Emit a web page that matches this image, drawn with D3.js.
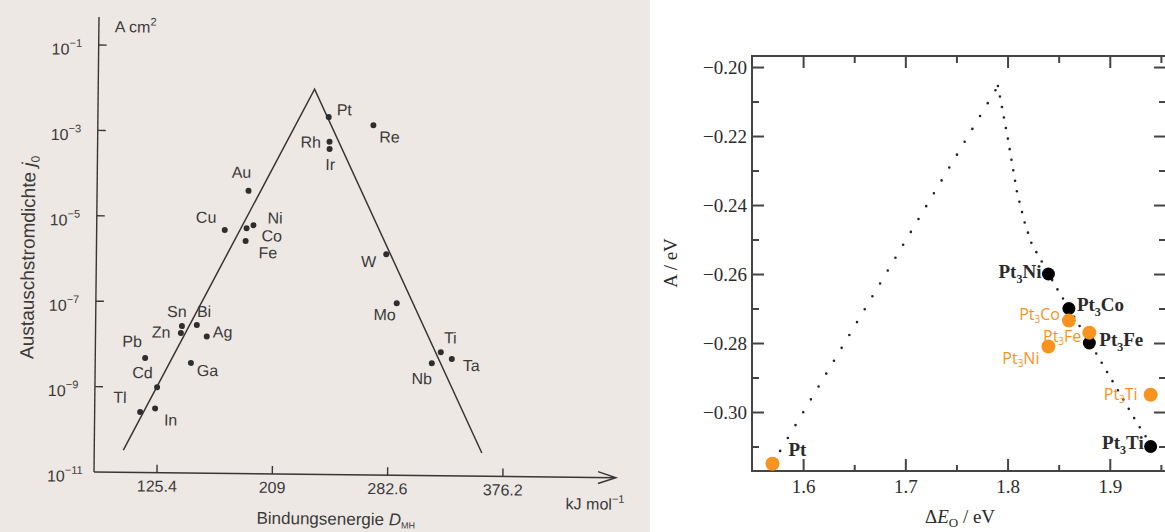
<!DOCTYPE html>
<html>
<head>
<meta charset="utf-8">
<script src="https://cdnjs.cloudflare.com/ajax/libs/d3/7.8.5/d3.min.js"></script>
<style>
  body { margin: 0; background: #fff; }
  svg { display: block; }
  .scan text { font-family: "Liberation Sans", Arial, sans-serif; fill: #3a3a3a; }
  .calc text { font-family: "Liberation Serif", "Times New Roman", serif; fill: #2b2b2b; }
</style>
</head>
<body>
<svg width="1165" height="532"></svg>
<script>
// ---- left: exchange current density vs. M-H bond energy (scanned textbook figure)
var metals = ["Tl", "In", "Pb", "Cd", "Zn", "Sn", "Ga", "Bi", "Ag", "Cu", "Fe", "Co", "Au", "Ni",
              "Pt", "Rh", "Ir", "Re", "W", "Mo", "Nb", "Ti", "Ta"];
var bondEnergy = [112.7, 123.5, 115.9, 124.8, 141.6, 142.3, 149.1, 153.1, 160.4, 172.6, 187.8, 188.4, 189.5, 193.4,
                  242.5, 243.2, 243.3, 271.1, 280.2, 288.5, 317.5, 324.7, 333.7];
var exchangeCurrent = [2.6e-10, 3.2e-10, 4.8e-9, 1.0e-9, 1.9e-8, 2.75e-8, 3.8e-9, 2.95e-8, 1.6e-8, 5.0e-6, 2.8e-6, 5.6e-6, 4.2e-5, 6.6e-6,
                       2.35e-3, 6.2e-4, 4.2e-4, 1.55e-3, 1.5e-6, 1.07e-7, 4.3e-9, 7.8e-9, 5.5e-9];
var peakEnergy = [100.8, 233.3, 358.9];
var peakCurrent = [3.3e-11, 1.05e-2, 3.5e-11];
var energyTicks = [125.4, 209, 282.6, 376.2];
var currentTicks = [1e-1, 1e-3, 1e-5, 1e-7, 1e-9, 1e-11];
var currentExponents = ["\u22121", "\u22123", "\u22125", "\u22127", "\u22129", "\u221211"];

// ---- right: A vs. oxygen binding energy
var alloys = ["Pt", "Pt3Ni", "Pt3Co", "Pt3Fe", "Pt3Ti"];
var deltaEO = [1.57, 1.84, 1.86, 1.88, 1.94];
var aBlack = [-0.315, -0.260, -0.270, -0.280, -0.310];
var aOrange = [-0.315, -0.281, -0.2735, -0.277, -0.295];
var volcanoLeftE = [1.57, 1.7906];
var volcanoLeftA = [-0.315, -0.2055];
var volcanoRightE = [1.7906, 1.8004, 1.8092, 1.8171, 1.8240, 1.8299, 1.8475, 1.8905, 1.9267, 1.9413];
var volcanoRightA = [-0.2055, -0.2209, -0.2362, -0.2455, -0.2516, -0.2545, -0.2638, -0.2849, -0.3032, -0.3099];
var eTicks = [1.6, 1.7, 1.8, 1.9];
var eMinorTicks = [1.65, 1.75, 1.85, 1.95];
var aTicks = [-0.30, -0.28, -0.26, -0.24, -0.22, -0.20];
var aMinorTicks = [-0.31, -0.29, -0.27, -0.25, -0.23, -0.21];

var svg = d3.select("svg");

// ================= left panel =================
svg.append("rect")
  .attr("x", 0).attr("y", 0).attr("width", 650).attr("height", 532)
  .attr("fill", "#eee8e4");

// the scan is slightly tilted
var scan = svg.append("g").attr("class", "scan").attr("transform", "rotate(0.63,94,472)");

var xE = d3.scaleLinear()
  .domain(energyTicks)
  .range(energyTicks.map(function(d, i) { return 157 + i * 115.3; }));
var yJ = d3.scaleLog().domain([1e-11, 1e-1]).range([472, 45]);

var ink = "#363636";

scan.append("line").attr("x1", 94).attr("x2", 94).attr("y1", 17).attr("y2", 472)
  .attr("stroke", ink).attr("stroke-width", 1.4);
scan.append("line").attr("x1", 94).attr("x2", 615).attr("y1", 472).attr("y2", 472)
  .attr("stroke", ink).attr("stroke-width", 1.4);
scan.append("path").attr("d", "M598,466L616,472L598,478")
  .attr("fill", "none").attr("stroke", ink).attr("stroke-width", 1.4);

scan.selectAll(".ytick")
  .data(currentTicks.slice(0, 5))
  .enter().append("line")
    .attr("x1", 94).attr("x2", 102)
    .attr("y1", function(d) { return yJ(d); })
    .attr("y2", function(d) { return yJ(d); })
    .attr("stroke", ink).attr("stroke-width", 1.4);

var ylab = scan.selectAll(".ylab")
  .data(currentTicks)
  .enter().append("text")
    .attr("x", 47)
    .attr("y", function(d) { return yJ(d) + 10; })
    .style("font-size", "16px");
ylab.append("tspan").text("10");
ylab.append("tspan")
  .attr("dy", -8).style("font-size", "11px")
  .text(function(d, i) { return currentExponents[i]; });

scan.selectAll(".xtick")
  .data(energyTicks)
  .enter().append("line")
    .attr("x1", function(d) { return xE(d); })
    .attr("x2", function(d) { return xE(d); })
    .attr("y1", 472).attr("y2", 464)
    .attr("stroke", ink).attr("stroke-width", 1.4);

scan.selectAll(".xlab")
  .data(energyTicks)
  .enter().append("text")
    .attr("x", function(d) { return xE(d); })
    .attr("y", 491)
    .attr("text-anchor", "middle")
    .style("font-size", "16px")
    .text(function(d) { return d; });

var unitY = scan.append("text").attr("x", 110).attr("y", 32).style("font-size", "16px");
unitY.append("tspan").text("A cm");
unitY.append("tspan").attr("dy", -7).style("font-size", "11px").text("2");

var unitX = scan.append("text").attr("x", 566).attr("y", 504).style("font-size", "16px");
unitX.append("tspan").text("kJ mol");
unitX.append("tspan").attr("dy", -7).style("font-size", "11px").text("\u22121");

var titleX = scan.append("text").attr("x", 257).attr("y", 522).style("font-size", "17px");
titleX.append("tspan").text("Bindungsenergie ");
titleX.append("tspan").style("font-style", "italic").text("D");
titleX.append("tspan").attr("dy", 3).style("font-size", "9px").text("MH");

var titleY = scan.append("text")
  .attr("transform", "translate(32,258) rotate(-90)")
  .attr("text-anchor", "middle")
  .style("font-size", "19px");
titleY.append("tspan").text("Austauschstromdichte ");
titleY.append("tspan").style("font-style", "italic").text("j");
titleY.append("tspan").attr("dy", 4).style("font-size", "12px").text("0");

// the two straight branches of the volcano
scan.append("path")
  .datum(d3.zip(peakEnergy, peakCurrent))
  .attr("d", d3.line()
    .x(function(d) { return xE(d[0]); })
    .y(function(d) { return yJ(d[1]); }))
  .attr("fill", "none").attr("stroke", ink).attr("stroke-width", 1.5);

var metalData = metals.map(function(m, i) {
  return {name: m, e: bondEnergy[i], j: exchangeCurrent[i]};
});

scan.selectAll(".metal")
  .data(metalData)
  .enter().append("circle")
    .attr("cx", function(d) { return xE(d.e); })
    .attr("cy", function(d) { return yJ(d.j); })
    .attr("r", 3)
    .attr("fill", "#2e2e2e");

// label offsets from each dot (left edge, baseline)
var metalLabelOffset = {
  Au: [-17, -13], Cu: [-29, -7], Ni: [14, -2], Co: [15, 13], Fe: [13, 17],
  Pt: [8, -2], Re: [6, 17], Rh: [-29, 6], Ir: [-4, 21], W: [-25, 13],
  Mo: [-23, 17], Ti: [3, -9], Ta: [11, 12], Nb: [-20, 21], Sn: [-15, -9],
  Bi: [0, -8], Zn: [-29, 5], Ag: [6, 1], Pb: [-23, -11], Ga: [6, 13],
  Cd: [-25, -9], Tl: [-27, -9], In: [9, 17]
};

scan.selectAll(".metalLabel")
  .data(metalData)
  .enter().append("text")
    .attr("x", function(d) { return xE(d.e) + metalLabelOffset[d.name][0]; })
    .attr("y", function(d) { return yJ(d.j) + metalLabelOffset[d.name][1]; })
    .style("font-size", "16px")
    .text(function(d) { return d.name; });

// ================= right panel =================
var calc = svg.append("g").attr("class", "calc");

var xD = d3.scaleLinear().domain([1.55, 1.955]).range([752, 1166]);
var yA = d3.scaleLinear().domain([-0.3171, -0.1968]).range([471, 56]);

var frame = "#444";

function styleAxis(g) {
  g.select(".domain").remove();
  g.selectAll("line").attr("stroke", frame).attr("stroke-width", 2);
  g.selectAll("text").style("font-size", "19px").attr("fill", "#2b2b2b");
}

calc.append("g").attr("transform", "translate(0,471)")
  .call(d3.axisBottom(xD).tickValues(eTicks).tickSize(-12).tickPadding(9).tickFormat(d3.format(".1f")))
  .call(styleAxis);
calc.append("g").attr("transform", "translate(0,471)")
  .call(d3.axisBottom(xD).tickValues(eMinorTicks).tickSize(-6).tickFormat(""))
  .call(styleAxis);
calc.append("g").attr("transform", "translate(0,56)")
  .call(d3.axisTop(xD).tickValues(eTicks).tickSize(-12).tickFormat(""))
  .call(styleAxis);
calc.append("g").attr("transform", "translate(0,56)")
  .call(d3.axisTop(xD).tickValues(eMinorTicks).tickSize(-7).tickFormat(""))
  .call(styleAxis);

calc.append("g").attr("transform", "translate(752,0)")
  .call(d3.axisLeft(yA).tickValues(aTicks).tickSize(-12).tickPadding(5).tickFormat(d3.format(".2f")))
  .call(styleAxis);
calc.append("g").attr("transform", "translate(752,0)")
  .call(d3.axisLeft(yA).tickValues(aMinorTicks).tickSize(-7).tickFormat(""))
  .call(styleAxis);
calc.append("g").attr("transform", "translate(1166,0)")
  .call(d3.axisRight(yA).tickValues(aTicks).tickSize(-12).tickFormat(""))
  .call(styleAxis);
calc.append("g").attr("transform", "translate(1166,0)")
  .call(d3.axisRight(yA).tickValues(aMinorTicks).tickSize(-7).tickFormat(""))
  .call(styleAxis);

calc.append("rect")
  .attr("x", 752).attr("y", 56).attr("width", 414).attr("height", 415)
  .attr("fill", "none").attr("stroke", frame).attr("stroke-width", 2);

var xt = calc.append("text").attr("x", 960).attr("y", 523).attr("text-anchor", "middle").style("font-size", "19px");
xt.append("tspan").text("\u0394");
xt.append("tspan").style("font-style", "italic").text("E");
xt.append("tspan").attr("dy", 4).style("font-size", "13px").text("O");
xt.append("tspan").attr("dy", -4).text(" / eV");

calc.append("text")
  .attr("transform", "translate(677,263) rotate(-90)")
  .attr("text-anchor", "middle")
  .style("font-size", "19px")
  .text("A / eV");

var volcanoLine = d3.line()
  .x(function(d) { return xD(d[0]); })
  .y(function(d) { return yA(d[1]); });

calc.append("path")
  .datum(d3.zip(volcanoLeftE, volcanoLeftA))
  .attr("d", volcanoLine)
  .attr("fill", "none").attr("stroke", "#222").attr("stroke-width", 2.6)
  .attr("stroke-linecap", "round").attr("stroke-dasharray", "0 15");
calc.append("path")
  .datum(d3.zip(volcanoRightE, volcanoRightA))
  .attr("d", volcanoLine)
  .attr("fill", "none").attr("stroke", "#222").attr("stroke-width", 2.6)
  .attr("stroke-linecap", "round").attr("stroke-dasharray", "0 10.7");

var orange = "#f7931e";

var blackPts = alloys.map(function(n, i) { return {name: n, e: deltaEO[i], a: aBlack[i]}; });
var orangePts = alloys.map(function(n, i) { return {name: n, e: deltaEO[i], a: aOrange[i]}; });

calc.selectAll(".calcPt")
  .data(blackPts)
  .enter().append("circle")
    .attr("cx", function(d) { return xD(d.e); })
    .attr("cy", function(d) { return yA(d.a); })
    .attr("r", 6.5)
    .attr("fill", "#000");

calc.selectAll(".expPt")
  .data(orangePts)
  .enter().append("circle")
    .attr("cx", function(d) { return xD(d.e); })
    .attr("cy", function(d) { return yA(d.a); })
    .attr("r", 7)
    .attr("fill", orange);

// writes "Pt3Ni" as Pt + subscript 3 + Ni
function formula(sel, subSize, shift) {
  sel.each(function(d) {
    var t = d3.select(this);
    var m = d.name.match(/^(\D+)(\d?)(\D*)$/);
    t.append("tspan").text(m[1]);
    if (m[2]) {
      t.append("tspan").attr("dy", shift).style("font-size", subSize).text(m[2]);
      t.append("tspan").attr("dy", -shift).text(m[3]);
    }
  });
}

var blackLabelPos = {
  Pt: [16, -8, "start"], Pt3Ni: [-7, 4, "end"], Pt3Co: [8, 2, "start"],
  Pt3Fe: [10, 3, "start"], Pt3Ti: [-7, 2, "end"]
};
var orangeLabelPos = {
  Pt3Co: [-9, -1, "end"], Pt3Fe: [-8, 9, "end"], Pt3Ni: [-9, 18, "end"], Pt3Ti: [-13, 5, "end"]
};

calc.selectAll(".calcLabel")
  .data(blackPts)
  .enter().append("text")
    .attr("x", function(d) { return xD(d.e) + blackLabelPos[d.name][0]; })
    .attr("y", function(d) { return yA(d.a) + blackLabelPos[d.name][1]; })
    .attr("text-anchor", function(d) { return blackLabelPos[d.name][2]; })
    .style("font-size", "19px").style("font-weight", "bold")
    .attr("fill", "#111")
    .call(formula, "12px", 5);

calc.selectAll(".expLabel")
  .data(orangePts.filter(function(d) { return orangeLabelPos[d.name]; }))
  .enter().append("text")
    .attr("x", function(d) { return xD(d.e) + orangeLabelPos[d.name][0]; })
    .attr("y", function(d) { return yA(d.a) + orangeLabelPos[d.name][1]; })
    .attr("text-anchor", function(d) { return orangeLabelPos[d.name][2]; })
    .style("font-family", "'Open Sans', 'DejaVu Sans', sans-serif")
    .style("font-size", "16px")
    .style("fill", orange)
    .call(formula, "10px", 3);
</script>
</body>
</html>
